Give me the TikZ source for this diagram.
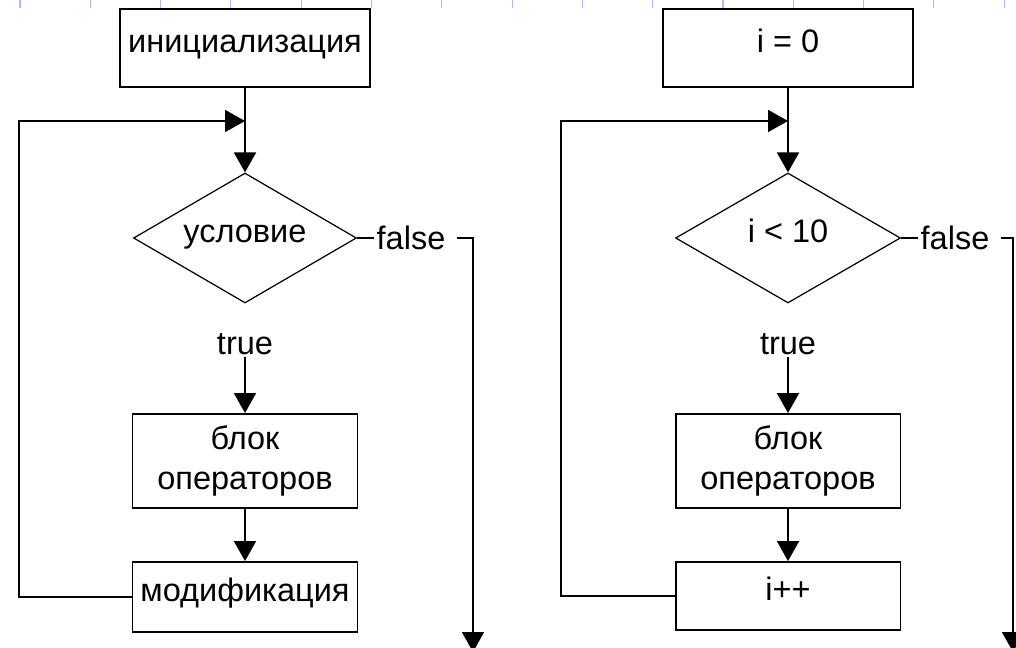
\documentclass[tikz,border=0pt]{standalone}
\usepackage{fontspec}
\setmainfont{Liberation Sans}
\usepackage{tikz}
\usetikzlibrary{shapes,arrows.meta}
\definecolor{tickblue}{RGB}{172,190,240}
\newcommand{\txt}{\fontsize{18.5}{23}\selectfont}
\tikzset{blk/.style={rectangle,draw,line width=1.1pt,inner sep=0pt,align=center,font=\txt}}
\tikzset{dia/.style={diamond,aspect=1.7,draw,line width=0.7pt,inner sep=0pt,minimum width=4.46cm,minimum height=2.6cm,font=\txt}}
\tikzset{one/.style={text height=0.52em,text depth=0pt}}
\tikzset{lbl/.style={inner sep=1pt,font=\txt}}
\tikzset{tick/.style={draw=tickblue,line width=0.6pt}}

\begin{document}
\begin{tikzpicture}[x=0.02cm,y=-0.02cm,>={Triangle[width=0.44cm,length=0.4cm]},line width=1.1pt]
    \useasboundingbox (0,0) rectangle (1016,648);
    \foreach \k in {0,...,14} \draw [tick] (20+70.3*\k,0) -- (20+70.3*\k,8);

    % left loop
    \node[blk,one,minimum width=5cm,minimum height=1.56cm] (a) at (245,48) {инициализация};
    \node[dia,one] (b) at (245,238) {условие};
    \node[lbl] (c) at (245,344) {true};
    \node[blk,minimum width=4.5cm,minimum height=1.88cm] (d) at (245,461) {блок\\операторов};
    \node[blk,one,minimum width=4.5cm,minimum height=1.4cm] (e) at (245,597) {модификация};
    \node[lbl] (f) at (411,238) {false};
    \coordinate (g) at (473,652);
    \coordinate (h) at (245,121);
    \coordinate (k) at (19,121);

    \draw [->] (a) to (b);
    \draw [->] (c) to (d);
    \draw [->] (d) to (e);
    \draw [] (b) to (f);
    \draw [->] (f.east) ++(9,0) -| (g);
    \draw [->] (e.west) -| (k) -- (h);

    % right loop
    \node[blk,one,minimum width=5cm,minimum height=1.56cm] (a2) at (788,48) {i = 0};
    \node[dia,one,minimum width=4.5cm] (b2) at (788,238) {i < 10};
    \node[lbl] (c2) at (788,344) {true};
    \node[blk,minimum width=4.5cm,minimum height=1.88cm] (d2) at (788,461) {блок\\операторов};
    \node[blk,one,minimum width=4.5cm,minimum height=1.36cm] (e2) at (788,596) {i++};
    \node[lbl] (f2) at (955,238) {false};
    \coordinate (g2) at (1013,652);
    \coordinate (h2) at (788,121);
    \coordinate (k2) at (561,121);

    \draw [->] (a2) to (b2);
    \draw [->] (c2) to (d2);
    \draw [->] (d2) to (e2);
    \draw [] (b2) to (f2);
    \draw [->] (f2.east) ++(9,0) -| (g2);
    \draw [->] (e2.west) -| (k2) -- (h2);
\end{tikzpicture}
\end{document}
